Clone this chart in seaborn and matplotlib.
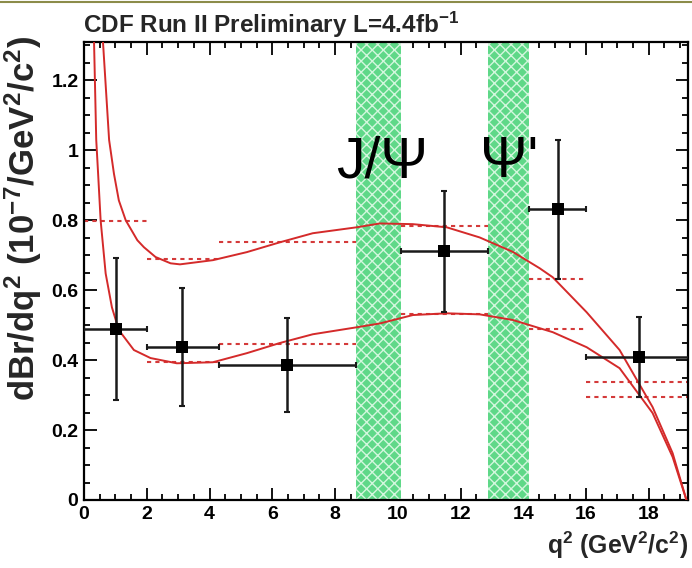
import numpy as np
import pandas as pd
import matplotlib
matplotlib.use("Agg")
import matplotlib.pyplot as plt
import seaborn as sns
from matplotlib.ticker import MultipleLocator
from matplotlib import font_manager

# Measured differential branching fraction in q^2 bins
bin_lo = [0.0, 2.0, 4.3, 10.09, 14.18, 16.0]
bin_hi = [2.0, 4.3, 8.68, 12.86, 16.0, 23.0]
q2_center = [1.01, 3.12, 6.46, 11.46, 15.10, 17.68]
dbr = [0.489, 0.437, 0.386, 0.711, 0.831, 0.409]
dbr_err = [0.202, 0.168, 0.134, 0.172, 0.200, 0.113]

# SM prediction averaged over each bin (upper / lower edge of the band)
sm_bin_hi = [np.nan, 0.690, 0.738, 0.784, 0.631, 0.337]
sm_bin_lo = [0.797, 0.395, 0.446, 0.531, 0.489, 0.294]

# SM prediction band edges as a function of q^2
band_hi_q2 = [0.605, 0.80, 0.955, 1.11, 1.33, 1.70, 1.91, 2.28, 2.76, 3.06, 4.11,
              5.19, 6.24, 7.29, 8.69, 9.43, 10.48, 11.56, 12.61, 13.66, 14.52,
              14.94, 16.02, 17.07, 18.12, 18.76, 19.20]
band_hi_val = [1.31, 1.03, 0.933, 0.857, 0.80, 0.743, 0.723, 0.695, 0.677, 0.674, 0.686,
               0.709, 0.737, 0.763, 0.780, 0.791, 0.789, 0.780, 0.751, 0.710, 0.663,
               0.637, 0.537, 0.429, 0.266, 0.134, 0.0]
band_lo_q2 = [0.32, 0.39, 0.45, 0.53, 0.69, 0.89, 1.11, 1.59, 2.12, 2.96, 4.11,
              5.19, 6.24, 7.29, 8.69, 9.43, 10.48, 11.56, 12.61, 13.66, 14.94,
              16.02, 17.07, 18.12, 18.76, 19.20]
band_lo_val = [1.31, 1.03, 0.933, 0.80, 0.648, 0.551, 0.486, 0.429, 0.406, 0.391, 0.394,
               0.420, 0.449, 0.474, 0.494, 0.505, 0.529, 0.534, 0.531, 0.515, 0.480,
               0.437, 0.377, 0.249, 0.123, 0.0]

# Charmonium veto regions
veto_lo = [8.68, 12.86]
veto_hi = [10.09, 14.18]
veto_names = ["J/\u03a8", "\u03a8'"]
veto_label_x = [8.03, 12.63]

sns.set_theme(style="ticks")
plt.rcParams["font.family"] = ["Liberation Sans", "DejaVu Sans"]
plt.rcParams["font.weight"] = "bold"
plt.rcParams["mathtext.default"] = "regular"
plt.rcParams["hatch.linewidth"] = 1.0

installed = {f.name for f in font_manager.fontManager.ttflist}
tick_family = "Liberation Sans Narrow" if "Liberation Sans Narrow" in installed else "Liberation Sans"
tick_size = 17 if tick_family == "Liberation Sans Narrow" else 14

fig = plt.figure(figsize=(6.92, 5.68), dpi=100)
ax = fig.add_axes([84 / 692, 1 - 500 / 568, 604 / 692, 458 / 568])

# veto bands
for lo, hi in zip(veto_lo, veto_hi):
    ax.axvspan(lo, hi, facecolor="#5fd888", edgecolor="#d4f7de", hatch="xxx",
               linewidth=0, zorder=1)

# SM band curves
curves = pd.concat([
    pd.DataFrame({"q2": band_hi_q2, "val": band_hi_val, "edge": "hi"}),
    pd.DataFrame({"q2": band_lo_q2, "val": band_lo_val, "edge": "lo"}),
])
sns.lineplot(data=curves, x="q2", y="val", units="edge", estimator=None, sort=False,
             color="#d42a2a", linewidth=1.4, ax=ax, zorder=3, legend=False)

# bin-averaged SM predictions
for lo, hi, vh, vl in zip(bin_lo, bin_hi, sm_bin_hi, sm_bin_lo):
    for v in (vh, vl):
        if not np.isnan(v):
            ax.plot([lo, hi], [v, v], color="#d43a3a", linewidth=1.5,
                    linestyle=(0, (2, 2)), zorder=2)

# measurements
xerr = [np.subtract(q2_center, bin_lo), np.subtract(bin_hi, q2_center)]
ax.errorbar(q2_center, dbr, xerr=xerr, yerr=dbr_err, fmt="none", ecolor="#1a1a1a",
            elinewidth=1.8, capsize=2.5, capthick=1.5, zorder=4)
pts = pd.DataFrame({"q2": q2_center, "dbr": dbr})
sns.scatterplot(data=pts, x="q2", y="dbr", marker="s", s=70, color="black",
                edgecolor="black", linewidth=0, ax=ax, zorder=5)

for name, xl in zip(veto_names, veto_label_x):
    ax.text(xl, 0.923, name, fontsize=41, fontweight="normal",
            family=["Liberation Sans", "DejaVu Sans"],
            ha="left", va="baseline", color="black", zorder=6)

ax.set_xlim(0, 19.25)
ax.set_ylim(0, 1.31)
ax.xaxis.set_major_locator(MultipleLocator(2))
ax.xaxis.set_minor_locator(MultipleLocator(0.5))
ax.yaxis.set_minor_locator(MultipleLocator(0.05))
ax.set_yticks([0, 0.2, 0.4, 0.6, 0.8, 1.0, 1.2])
ax.set_yticklabels(["0", "0.2", "0.4", "0.6", "0.8", "1", "1.2"])
ax.tick_params(which="both", direction="in", top=True, right=True, width=1.3,
               colors="black")
ax.tick_params(which="major", length=9, labelsize=tick_size, pad=4)
ax.tick_params(which="minor", length=4.5)
for lab in ax.get_xticklabels() + ax.get_yticklabels():
    lab.set_fontweight("bold")
    lab.set_family(tick_family)
for sp in ax.spines.values():
    sp.set_linewidth(1.6)
    sp.set_color("black")

ax.set_xlabel("q$^{2}$ (GeV$^{2}$/c$^{2}$)", fontsize=17.8, fontweight="bold",
              loc="right", labelpad=5)
ax.set_ylabel("")
fig.text(23 / 692, 1 - 36 / 568, "dBr/dq$^{2}$ (10$^{-7}$/GeV$^{2}$/c$^{2}$)",
         fontsize=25, fontweight="bold", rotation=90, ha="center", va="top")

fig.text(83 / 692, 1 - 33 / 568, "CDF Run II Preliminary L=4.4fb$^{-1}$",
         fontsize=17.5, fontweight="bold", ha="left", va="baseline")

# frame line along the top edge
fig.add_artist(plt.Line2D([0, 1], [1 - 1.5 / 568, 1 - 1.5 / 568],
                          transform=fig.transFigure, color="#8c8c4a", linewidth=1.5))

fig.savefig("out.png", dpi=100)
